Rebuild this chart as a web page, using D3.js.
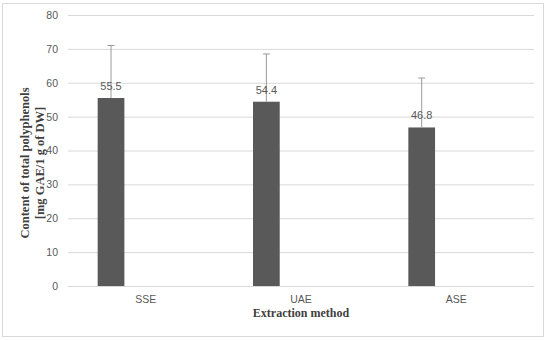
<!DOCTYPE html>
<html>
<head>
<meta charset="utf-8">
<script src="https://cdn.jsdelivr.net/npm/d3@7"></script>
<style>
  body { margin: 0; background: #fff; }
  .tick text { fill: #595959; font-family: "Liberation Sans", sans-serif; font-size: 10.5px; }
  .title { font-family: "Liberation Serif", serif; font-weight: bold; font-size: 12px; fill: #404040; }
</style>
</head>
<body>
<div id="chart"></div>
<script>
// data
var methods = ["SSE", "UAE", "ASE"];
var polyphenols = [55.5, 54.4, 46.8];
var errorTops = [71.0, 68.5, 61.4];   // upper end of the error bar
var yTicks = [0, 10, 20, 30, 40, 50, 60, 70, 80];

var width = 550, height = 340;
var margin = { top: 15, right: 16, bottom: 54, left: 68 };
var w = width - margin.left - margin.right;
var h = height - margin.top - margin.bottom;

var svg = d3.select("#chart").append("svg")
    .attr("width", width)
    .attr("height", height);

// outer frame like the Excel chart area
svg.append("rect")
    .attr("x", 2.5).attr("y", 3.5)
    .attr("width", 541).attr("height", 333)
    .attr("fill", "none")
    .attr("stroke", "#d9d9d9");

var g = svg.append("g")
    .attr("transform", `translate(${margin.left}, ${margin.top})`);

var xScale = d3.scaleBand().domain(methods).range([0, w]);
var yScale = d3.scaleLinear().domain([0, 80]).range([h, 0]);

// bars sit in the left part of each category slot (empty 2nd series in the original)
var barStart = 0.191, barWidth = 0.172;

// gridlines
g.append("g")
    .attr("class", "grid")
    .call(d3.axisLeft(yScale).tickValues(yTicks).tickSize(-w).tickFormat(""))
    .call(s => s.select(".domain").remove())
    .selectAll("line").attr("stroke", "#d9d9d9");

// y axis labels
g.append("g")
    .call(d3.axisLeft(yScale).tickValues(yTicks).tickSize(0).tickPadding(10))
    .call(s => s.select(".domain").remove());

// x axis
var xAxis = g.append("g")
    .attr("transform", `translate(0, ${h})`)
    .call(d3.axisBottom(xScale).tickSize(0).tickPadding(10));
xAxis.select(".domain").attr("stroke", "#d9d9d9");

var data = methods.map((m, i) => ({ key: m, value: polyphenols[i], top: errorTops[i] }));
var bx = d => xScale(d.key) + xScale.bandwidth() * barStart;
var bw = xScale.bandwidth() * barWidth;

g.selectAll(".bar").data(data)
    .enter().append("rect")
    .attr("class", "bar")
    .attr("x", bx)
    .attr("width", bw)
    .attr("y", d => yScale(d.value))
    .attr("height", d => h - yScale(d.value))
    .attr("fill", "#595959");

// error bars (upper only)
var err = g.selectAll(".err").data(data).enter().append("g").attr("class", "err")
    .attr("stroke", "#9a9a9a").attr("stroke-width", 1);
err.append("line")
    .attr("x1", d => bx(d) + bw / 2).attr("x2", d => bx(d) + bw / 2)
    .attr("y1", d => yScale(d.value)).attr("y2", d => yScale(d.top));
err.append("line")
    .attr("x1", d => bx(d) + bw / 2 - 3.5).attr("x2", d => bx(d) + bw / 2 + 3.5)
    .attr("y1", d => yScale(d.top)).attr("y2", d => yScale(d.top));

// value labels
g.selectAll(".lbl").data(data)
    .enter().append("text")
    .attr("x", d => bx(d) + bw / 2)
    .attr("y", d => yScale(d.value) - 8)
    .attr("text-anchor", "middle")
    .style("font-family", "Liberation Sans, sans-serif")
    .style("font-size", "11px")
    .attr("fill", "#595959")
    .text(d => d.value.toFixed(1));

// axis titles
svg.append("text")
    .attr("class", "title")
    .attr("text-anchor", "middle")
    .attr("x", margin.left + w / 2)
    .attr("y", 317)
    .text("Extraction method");

var yt = svg.append("text")
    .attr("class", "title")
    .attr("text-anchor", "middle")
    .attr("transform", "translate(29, 163) rotate(-90)")
    .style("font-size", "12.5px");
yt.append("tspan").attr("x", 0).attr("y", 0).text("Content of total polyphenols");
yt.append("tspan").attr("x", 0).attr("y", 15).text("[mg GAE/1 g of DW]");
</script>
</body>
</html>
